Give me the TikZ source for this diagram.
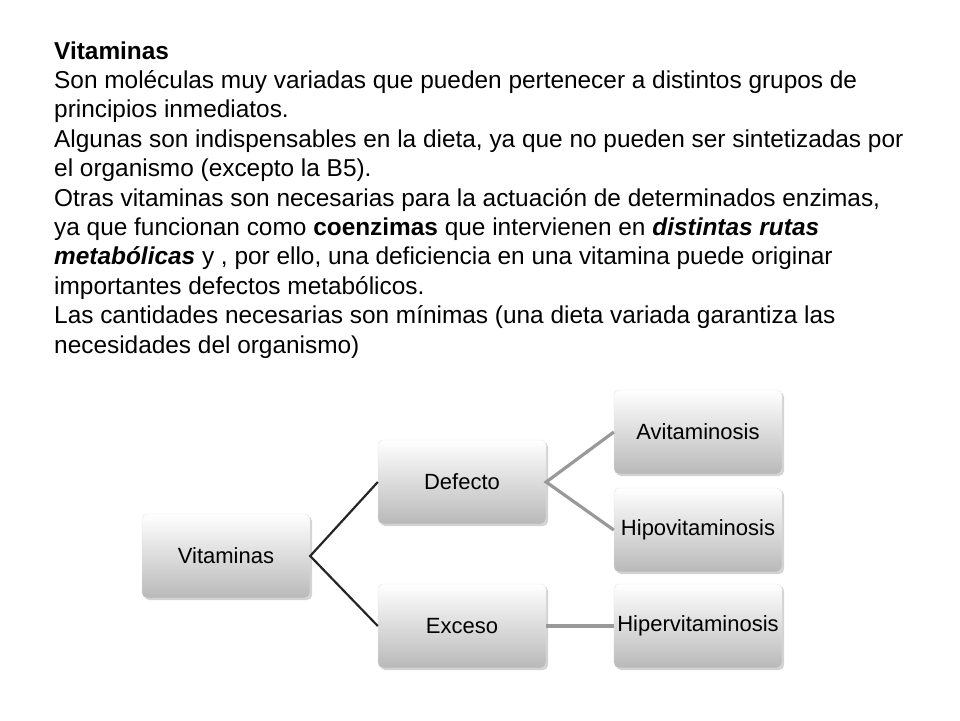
\documentclass[tikz,border=0pt]{standalone}
\usepackage{fontspec}
\setmainfont{Liberation Sans}
\usetikzlibrary{shadows}
\begin{document}
\begin{tikzpicture}[x=1pt,y=-1pt,
  txt/.style={anchor=base west,inner sep=0pt,font=\fontsize{24.4}{28}\selectfont},
  box/.style={draw=white!80!gray,rounded corners=5pt,minimum width=168pt,minimum height=84pt,
    top color=white,bottom color=gray!55,drop shadow={opacity=0.35,shadow xshift=2pt,shadow yshift=-2pt},
    font=\fontsize{22}{26}\selectfont},
  dk/.style={draw=black!85,line width=2.2pt},
  lt/.style={draw=gray!80,line width=3.2pt}]
\useasboundingbox (0,0) rectangle (960,720);
\foreach \t [count=\i from 0] in {
 {\textbf{Vitaminas}},
 {Son moléculas muy variadas que pueden pertenecer a distintos grupos de},
 {principios inmediatos.},
 {Algunas son indispensables en la dieta, ya que no pueden ser sintetizadas por},
 {el organismo (excepto la B5).},
 {Otras vitaminas son necesarias para la actuación de determinados enzimas,},
 {ya que funcionan como \textbf{coenzimas} que intervienen en \textbf{\textit{distintas rutas}}},
 {\textbf{\textit{metabólicas}} y , por ello, una deficiencia en una vitamina puede originar},
 {importantes defectos metabólicos.},
 {Las cantidades necesarias son mínimas (una dieta variada garantiza las},
 {necesidades del organismo)}}
 \node[txt] (l\i) at (54,{59+29.4*\i}) {\t};
\node[box] (v) at (226,556) {Vitaminas};
\node[box] (d) at (462,482) {Defecto};
\node[box] (e) at (462,626) {Exceso};
\node[box] (a) at (698,432) {Avitaminosis};
\node[box] (h) at (698,530) {Hipovitaminosis};
\node[box] (p) at (698,626) {Hipervitaminosis};
\draw[dk] (d.west) -- (v.east) -- (e.west);
\draw[lt] (a.west) -- (d.east) -- (h.west);
\draw[lt] (e.east) -- (p.west);
\end{tikzpicture}
\end{document}
